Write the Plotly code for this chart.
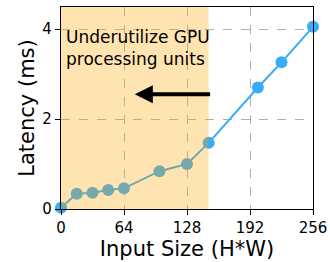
import plotly.graph_objects as go

input_size = [0, 16, 32, 48, 64, 100, 128, 150, 200, 224, 256]
latency = [0.03, 0.34, 0.36, 0.42, 0.46, 0.84, 1.0, 1.47, 2.7, 3.26, 4.05]
x_ticks = [0, 64, 128, 192, 256]
y_ticks = [0, 2, 4]
shade_end = 150
arrow_from = 153
arrow_to = 75
arrow_y = 2.55

FONT = "DejaVu Sans"
blue = "#3aabf5"

fig = go.Figure()
fig.add_trace(go.Scatter(x=input_size, y=latency, mode="lines+markers",
                         line=dict(color=blue, width=2),
                         marker=dict(color=blue, size=12),
                         cliponaxis=False, showlegend=False))

fig.add_shape(type="rect", xref="x", yref="paper", x0=0, x1=shade_end, y0=0, y1=1,
              fillcolor="rgba(255,165,0,0.3)", line=dict(width=0), layer="above")

fig.add_annotation(x=arrow_to, y=arrow_y, ax=arrow_from, ay=arrow_y,
                   xref="x", yref="y", axref="x", ayref="y",
                   showarrow=True, arrowhead=2, arrowsize=0.9, arrowwidth=4,
                   arrowcolor="black", text="")
fig.add_annotation(x=3, y=4.08, xref="x", yref="y", xanchor="left", yanchor="top",
                   text="Underutilize GPU<br>processing units", showarrow=False, align="left",
                   font=dict(family=FONT, size=17, color="black"))

axis_common = dict(showline=True, linecolor="black", linewidth=1.2, mirror=True,
                   ticks="outside", ticklen=5, tickcolor="black", tickwidth=1.2,
                   showgrid=True, gridcolor="#b0b0b0", griddash="dash", gridwidth=1,
                   zeroline=False, automargin=False,
                   tickfont=dict(family=FONT, size=15, color="black"))

fig.update_xaxes(range=[0, 256], tickvals=x_ticks,
                 title=dict(text="Input Size (H*W)", font=dict(family=FONT, size=21, color="black"), standoff=2),
                 **axis_common)
fig.update_yaxes(range=[0, 4.49], tickvals=y_ticks,
                 title=dict(text="Latency (ms)", font=dict(family=FONT, size=21, color="black"), standoff=2),
                 **axis_common)

fig.update_layout(width=330, height=262, margin=dict(l=61, r=17, t=7, b=53),
                  plot_bgcolor="white", paper_bgcolor="white",
                  font=dict(family=FONT))
fig.write_html("out.html", config={"displayModeBar": False},
               post_script="document.body.style.margin='0';document.body.style.overflow='hidden';")
